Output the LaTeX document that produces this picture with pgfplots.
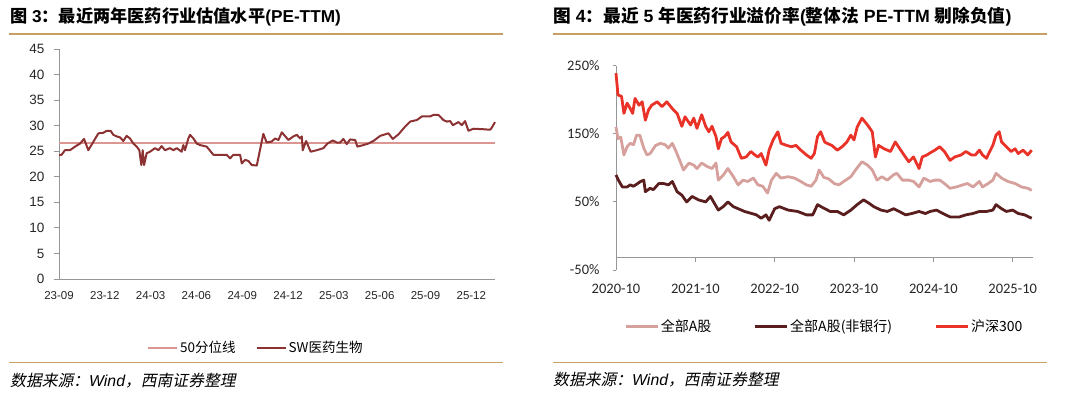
\documentclass[border=0pt]{standalone}
\usepackage{pgfplots}
\pgfplotsset{compat=1.18}
\usepackage{fontspec}
\setmainfont{Liberation Sans}
\newfontfamily\cjk{Noto Sans CJK SC}
\newfontfamily\cjkit{Noto Sans CJK SC}[FakeSlant=0.2]
\newfontfamily\calib{Carlito}
\definecolor{gold}{RGB}{201,160,99}
\definecolor{median}{RGB}{220,150,145}
\definecolor{swred}{RGB}{140,50,50}
\definecolor{hsred}{RGB}{233,50,40}
\definecolor{apink}{RGB}{214,160,156}
\definecolor{adark}{RGB}{90,30,30}
\definecolor{axisgray}{RGB}{150,150,150}
\begin{document}
\begin{tikzpicture}[x=1pt,y=1pt]
\path[use as bounding box] (0,0) rectangle (1080,403);
% titles
\node[anchor=west,inner sep=0] at (10,386) {\fontsize{17.2}{20}\selectfont\bfseries{\cjk 图} 3{\cjk ：最近两年医药行业估值水平}(PE-TTM)};
\node[anchor=west,inner sep=0] at (553,386) {\fontsize{17.7}{20}\selectfont\bfseries{\cjk 图} 4{\cjk ：最近} 5 {\cjk 年医药行业溢价率}({\cjk 整体法} PE-TTM {\cjk 剔除负值})};
\draw[gold,line width=1.5] (9,369) -- (503,369);
\draw[gold,line width=1.5] (553,369) -- (1047,369);
\draw[gold,line width=1.5] (9,40.3) -- (503,40.3);
\draw[gold,line width=1.5] (553,40.3) -- (1047,40.3);
\node[anchor=west,inner sep=0] at (10,22) {\fontsize{15.8}{18}\selectfont{\cjkit 数据来源：}{\itshape Wind}{\cjkit ，西南证券整理}};
\node[anchor=west,inner sep=0] at (553,23) {\fontsize{15.8}{18}\selectfont{\cjkit 数据来源：}{\itshape Wind}{\cjkit ，西南证券整理}};

% left chart
\begin{axis}[at={(59pt,124pt)},anchor=south west,scale only axis,width=436pt,height=230pt,
  xmin=0,xmax=28.55,ymin=0,ymax=45,
  /pgf/number format/assume math mode=true,
  axis x line=bottom,axis y line=left,axis line style={-,draw=axisgray,line width=0.8pt},
  ytick={0,5,...,45},xtick={0,3,...,27},
  xticklabels={23-09,23-12,24-03,24-06,24-09,24-12,25-03,25-06,25-09,25-12},
  tick align=outside,major tick length=5pt,
  x tick style={draw=none},y tick style={draw=axisgray,line width=0.8pt},
  yticklabel style={font=\fontsize{13.5}{15}\selectfont,text=black!85,xshift=-6pt},
  xticklabel style={font=\fontsize{11.5}{14}\selectfont,text=black!85,yshift=-4pt},
  legend style={at={(0.452,-0.30)},anchor=center,draw=none,fill=none,legend columns=2,
    font=\fontsize{13.5}{16}\selectfont\cjk,
    /tikz/every even column/.append style={column sep=18pt},
    nodes={inner xsep=2pt,inner ysep=1pt}},
  legend image code/.code={\draw[#1] (0pt,0pt) -- (29pt,0pt);},
  clip=false]
\addplot[median,line width=1.6pt] coordinates {(0,26.6) (28.55,26.6)};
\addlegendentry{50分位线}
\addplot[swred,line width=2pt,line join=round] coordinates {
(0,24.3) (0.17,24.3)(0.39,25.2)(0.72,25.2)(1.05,25.9)(1.38,26.5)(1.64,27.4)(1.92,25.2)(2.58,28.5)(2.90,28.6)(3.12,29.0)(3.38,29.0)(3.56,28.2)(3.78,27.9)(4.00,27.7)(4.21,27.0)(4.43,28.0)(4.65,27.5)(4.87,26.5)(5.09,25.9)(5.26,25.2)(5.39,22.3)(5.48,25.2)(5.57,22.3)(5.74,24.6)(5.96,24.9)(6.29,25.6)(6.51,25.2)(6.72,26.0)(6.94,25.2)(7.27,25.6)(7.49,25.2)(7.71,25.6)(8.03,24.9)(8.14,26.2)(8.25,25.2)(8.47,27.5)(8.58,28.2)(8.80,27.5)(9.02,26.5)(9.24,26.2)(9.67,25.9)(10.11,24.3)(10.76,24.3)(10.98,24.3)(11.20,23.6)(11.42,24.3)(11.86,24.3)(11.97,22.6)(12.18,23.3)(12.40,23.1)(12.62,22.3)(12.95,22.2)(13.38,28.4)(13.60,26.7)(13.93,26.9)(14.15,27.5)(14.37,27.2)(14.59,28.7)(15.02,27.2)(15.35,27.9)(15.57,28.2)(15.79,27.5)(15.90,27.9)(15.96,25.2)(16.18,27.0)(16.48,24.9)(16.88,25.2)(17.31,25.6)(17.58,26.5)(17.93,27.1)(18.19,26.7)(18.41,26.7)(18.62,27.4)(18.84,26.4)(19.06,27.3)(19.39,27.2)(19.54,25.9)(19.93,26.2)(20.26,26.5)(20.59,27.0)(21.03,28.0)(21.57,28.5)(21.86,27.4)(22.23,28.3)(22.66,29.8)(22.99,30.8)(23.43,31.1)(23.76,31.8)(24.30,31.8)(24.52,32.1)(24.85,32.1)(25.17,31.1)(25.39,30.8)(25.61,30.9)(25.79,30.1)(26.16,30.7)(26.38,30.1)(26.59,30.9)(26.81,29.0)(27.14,29.4)(27.79,29.3)(28.23,29.2)(28.34,29.6)(28.55,30.7)};
\addlegendentry{SW医药生物}
\end{axis}

% right chart: y axis only
\begin{axis}[at={(616pt,133pt)},anchor=south west,scale only axis,width=417.3pt,height=204.3pt,
  xmin=0,xmax=5.26,ymin=-50,ymax=250,
  axis y line=left,axis x line=none,axis line style={-,draw=axisgray,line width=0.8pt},
  ytick={-50,50,150,250},yticklabels={-50\%,50\%,150\%,250\%},xtick=\empty,
  tick align=outside,major tick length=3pt,y tick style={draw=axisgray,line width=0.8pt},
  yticklabel style={font=\fontsize{14.5}{16}\selectfont\calib,text=black!85,xshift=-10pt}]
\end{axis}
% right chart: data + x axis
\begin{axis}[at={(616pt,145.7pt)},anchor=south west,scale only axis,width=417.3pt,height=191.6pt,
  xmin=0,xmax=5.26,ymin=-31.3,ymax=250,
  axis x line=bottom,axis y line=none,axis line style={-,draw=axisgray,line width=0.8pt},
  xtick={0,1,...,5},xticklabels={2020-10,2021-10,2022-10,2023-10,2024-10,2025-10},ytick=\empty,
  tick align=outside,major tick length=5pt,x tick style={draw=axisgray,line width=0.8pt},
  xticklabel style={font=\fontsize{14.5}{16}\selectfont\calib,text=black!85,yshift=-18pt},
  legend style={at={(0.499,-0.362)},anchor=center,draw=none,fill=none,legend columns=3,
    font=\fontsize{14}{16}\selectfont\cjk,
    /tikz/every even column/.append style={column sep=40pt},
    nodes={inner xsep=2pt,inner ysep=1pt}},
  legend image code/.code={\draw[#1] (0pt,0pt) -- (32pt,0pt);},
  clip=false]
\addplot[apink,line width=2.8pt,line join=round] coordinates {
(0,160)(0.025,143)(0.06,145)(0.1,119)(0.14,131)(0.18,136)(0.22,134)(0.26,148)(0.30,148)(0.35,129)(0.39,119)(0.43,121)(0.5,133)(0.56,136)(0.62,134)(0.66,129)(0.71,136)(0.75,126)(0.81,109)(0.85,97)(0.92,107)(0.98,104)(1.02,99)(1.08,107)(1.15,102)(1.21,99)(1.26,107)(1.29,82)(1.35,89)(1.41,99)(1.48,87)(1.54,75)(1.60,82)(1.66,80)(1.73,85)(1.79,75)(1.85,73)(1.91,63)(1.96,82)(2.02,92)(2.08,85)(2.17,87)(2.25,85)(2.33,80)(2.40,75)(2.46,73)(2.52,82)(2.56,97)(2.62,86)(2.68,84)(2.75,77)(2.81,75)(2.87,80)(2.96,87)(3.02,97)(3.10,109)(3.17,104)(3.23,97)(3.29,82)(3.35,87)(3.42,82)(3.50,90)(3.54,92)(3.61,82)(3.69,82)(3.75,80)(3.82,72)(3.88,85)(3.96,80)(4.02,82)(4.08,82)(4.14,77)(4.21,70)(4.29,72)(4.37,75)(4.43,77)(4.50,72)(4.58,80)(4.62,72)(4.69,77)(4.75,82)(4.79,92)(4.86,85)(4.94,80)(5.03,77)(5.11,72)(5.19,70)(5.24,67)};
\addlegendentry{全部A股}
\addplot[adark,line width=2.8pt,line join=round] coordinates {
(0,89.6)(0.03,82)(0.08,72)(0.14,72)(0.18,75)(0.22,73)(0.26,76)(0.31,80)(0.35,82)(0.37,65)(0.43,70)(0.47,68)(0.54,77)(0.6,77)(0.66,75)(0.71,80)(0.77,65)(0.83,60)(0.89,50)(0.96,58)(1.04,53)(1.13,50)(1.19,58)(1.23,50)(1.29,38)(1.35,43)(1.41,50)(1.48,43)(1.54,40)(1.62,36)(1.71,33)(1.77,31)(1.83,26)(1.89,31)(1.93,23)(2.0,40)(2.06,43)(2.17,38)(2.29,36)(2.40,31)(2.48,31)(2.54,46)(2.60,42)(2.70,36)(2.79,36)(2.87,31)(2.96,38)(3.04,46)(3.12,53)(3.19,48)(3.25,43)(3.34,38)(3.42,36)(3.50,40)(3.57,36)(3.65,31)(3.73,33)(3.82,36)(3.90,33)(3.96,36)(4.04,38)(4.12,33)(4.21,28)(4.33,28)(4.41,31)(4.50,33)(4.58,36)(4.67,36)(4.75,38)(4.79,46)(4.86,40)(4.92,36)(5.0,38)(5.07,33)(5.15,31)(5.24,26)};
\addlegendentry{全部A股(非银行)}
\addplot[hsred,line width=2.8pt,line join=round] coordinates {
(0,239)(0.025,207)(0.07,205)(0.1,180)(0.14,195)(0.18,187)(0.21,180)(0.24,202)(0.29,192)(0.33,197)(0.37,170)(0.41,185)(0.45,192)(0.52,197)(0.58,190)(0.64,197)(0.71,187)(0.77,180)(0.83,161)(0.87,175)(0.94,163)(0.98,173)(1.02,158)(1.08,178)(1.13,161)(1.17,153)(1.21,161)(1.26,146)(1.29,128)(1.33,143)(1.37,146)(1.41,152)(1.45,138)(1.52,131)(1.58,114)(1.64,116)(1.70,124)(1.75,119)(1.79,116)(1.83,121)(1.89,104)(1.93,126)(1.98,141)(2.04,153)(2.08,136)(2.15,133)(2.21,131)(2.27,133)(2.33,126)(2.40,119)(2.46,114)(2.50,121)(2.54,146)(2.58,153)(2.63,138)(2.66,136)(2.72,133)(2.79,126)(2.85,131)(2.91,138)(2.96,148)(3.0,141)(3.04,160)(3.10,173)(3.17,163)(3.23,153)(3.27,116)(3.31,133)(3.38,128)(3.46,124)(3.52,138)(3.56,131)(3.63,119)(3.69,109)(3.75,116)(3.82,99)(3.86,116)(3.92,119)(3.96,122)(4.02,126)(4.08,131)(4.14,124)(4.21,111)(4.27,116)(4.35,119)(4.41,124)(4.48,119)(4.53,119)(4.58,126)(4.62,119)(4.67,114)(4.71,124)(4.75,133)(4.79,148)(4.83,153)(4.86,138)(4.92,131)(4.98,124)(5.03,128)(5.07,121)(5.13,126)(5.19,119)(5.24,126)};
\addlegendentry{沪深300}
\end{axis}
\end{tikzpicture}
\end{document}
